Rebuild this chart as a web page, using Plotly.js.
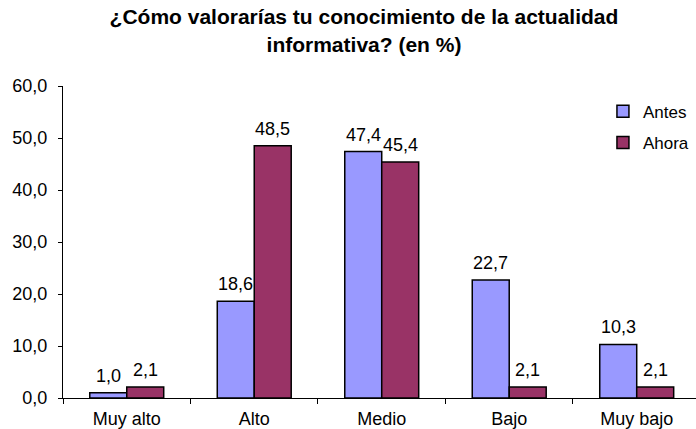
<!DOCTYPE html>
<html>
<head>
<meta charset="utf-8">
<script src="https://cdn.plot.ly/plotly-3.0.1.min.js"></script>
<style>html,body{margin:0;padding:0;background:#fff}#chart{width:696px;height:429px}</style>
</head>
<body>
<div id="chart"></div>
<script>
const categories = ["Muy alto", "Alto", "Medio", "Bajo", "Muy bajo"];
const antes = [1.0, 18.6, 47.4, 22.7, 10.3];
const ahora = [2.1, 48.5, 45.4, 2.1, 2.1];
const seriesNames = ["Antes", "Ahora"];
const seriesColors = ["#9999FF", "#993366"];

const FONT = "Liberation Sans, Arial, sans-serif";
const seriesValues = [antes, ahora];

const traces = seriesValues.map((vals, i) => ({
  type: "bar",
  name: seriesNames[i],
  x: categories,
  y: vals,
  legendgroup: "g" + i,
  marker: {color: seriesColors[i], line: {color: "#000000", width: 1.5}},
  hoverinfo: "x+y"
}));

const annotations = [];
seriesValues.forEach((vals, i) => {
  vals.forEach((v, j) => {
    annotations.push({
      x: categories[j], y: v, xref: "x", yref: "y",
      text: v.toFixed(1).replace(".", ","),
      showarrow: false, yanchor: "bottom", xanchor: "center",
      xshift: i === 0 ? -18.5 : 18.5, yshift: 5,
      font: {family: FONT, size: 18, color: "#000"}
    });
  });
});

const layout = {
  width: 696, height: 429,
  margin: {l: 63, r: 0, t: 86, b: 31, pad: 0},
  paper_bgcolor: "#fff", plot_bgcolor: "#fff",
  separators: ",.",
  barmode: "group", bargap: 0.42, bargroupgap: 0,
  title: {
    text: "<b>¿Cómo valorarías tu conocimiento de la actualidad<br>informativa? (en %)</b>",
    font: {family: FONT, size: 21, color: "#000"},
    x: 0.4755, xref: "paper", xanchor: "center",
    y: 0.943, yref: "container", yanchor: "top"
  },
  xaxis: {
    type: "category", range: [-0.5, 4.465],
    showline: true, linecolor: "#000", linewidth: 1,
    ticks: "outside", ticklen: 5, tickcolor: "#000", tickson: "boundaries",
    ticklabelstandoff: 4,
    tickfont: {family: FONT, size: 18, color: "#000"},
    showgrid: false, zeroline: false, automargin: false, fixedrange: true
  },
  yaxis: {
    range: [0, 60], dtick: 10, tick0: 0, tickformat: ".1f",
    showline: true, linecolor: "#000", linewidth: 1,
    ticks: "outside", ticklen: 4, tickcolor: "#000",
    ticklabelstandoff: 7,
    tickfont: {family: FONT, size: 18, color: "#000"},
    showgrid: false, zeroline: false, automargin: false, fixedrange: true
  },
  legend: {
    x: 0.853, xanchor: "left", y: 0.975, yanchor: "top",
    traceorder: "grouped", tracegroupgap: 6,
    font: {family: FONT, size: 17, color: "#000"},
    bgcolor: "rgba(0,0,0,0)", borderwidth: 0
  },
  annotations: annotations,
  showlegend: true
};

Plotly.newPlot("chart", traces, layout, {displayModeBar: false, staticPlot: true});
</script>
</body>
</html>
